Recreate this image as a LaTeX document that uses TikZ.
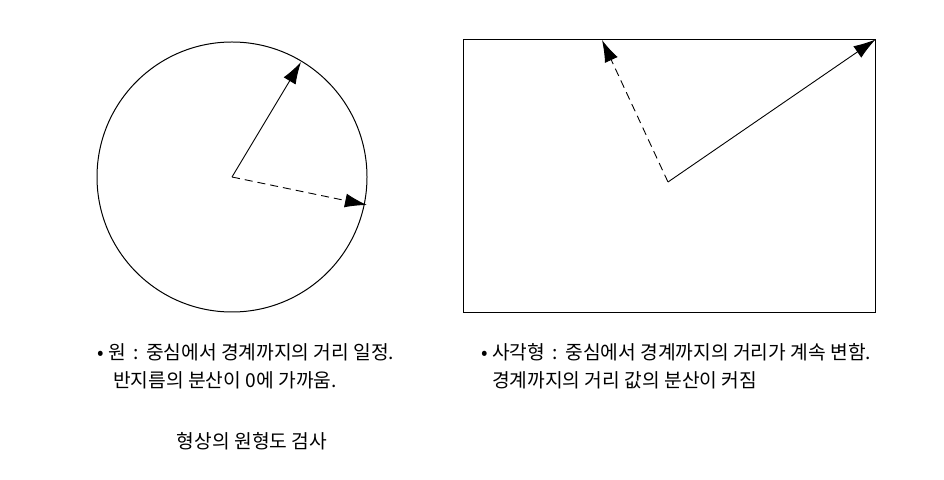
\documentclass[tikz,border=0pt]{standalone}
\usepackage{fontspec}
\setmainfont{Noto Sans CJK KR}
\usepackage{tikz}
\usetikzlibrary{arrows.meta}
\usetikzlibrary{positioning}
\tikzstyle{outline} = [draw, line width = 1pt, inner sep = 0pt]
\tikzstyle{arrow} = [line width = 0.9pt, -{Latex[length = 22bp, width = 14bp]}]
\tikzstyle{dashline} = [dash pattern = on 8bp off 5bp]
\tikzstyle{caption} = [anchor = west, inner sep = 0pt, font = \fontsize{19.3}{22}\selectfont]

\begin{document}
\begin{tikzpicture}[x = 1bp, y = -1bp]
	\useasboundingbox (0, 0) rectangle (944, 480);
	
		% Circle
		\node[outline, circle, minimum size = 270bp] (circ) at (232, 177) {};
		\coordinate (cc) at (232, 177);
		\coordinate (cup) at (301, 62);
		\coordinate (cright) at (367, 205);
		
		% Rectangle
		\node[outline, rectangle, minimum width = 412bp, minimum height = 272bp] (box) at (669, 176) {};
		\coordinate (bc) at (668, 182);
		\coordinate (btop) at (602, 40);
		
		% Captions
		\node[caption] (cap1a) at (97, 352) {• 원\,\ :\ \,중심에서 경계까지의 거리 일정.};
		\node[caption] (cap1b) at (113, 380) {반지름의 분산이 0에 가까움.};
		\node[caption] (cap2a) at (481, 352) {• 사각형\,\ :\ \,중심에서 경계까지의 거리가 계속 변함.};
		\node[caption] (cap2b) at (492, 380) {경계까지의 거리 값의 분산이 커짐};
		\node[caption, anchor = center] (title) at (252, 441) {형상의 원형도 검사};
		
		% Arrows
		\draw[arrow] (cc) -- (cup);
		\draw[arrow, dashline] (cc) -- (cright);
		\draw[arrow] (bc) -- (box.north east);
		\draw[arrow, dashline] (bc) -- (btop);
		
	\end{tikzpicture}
\end{document}
